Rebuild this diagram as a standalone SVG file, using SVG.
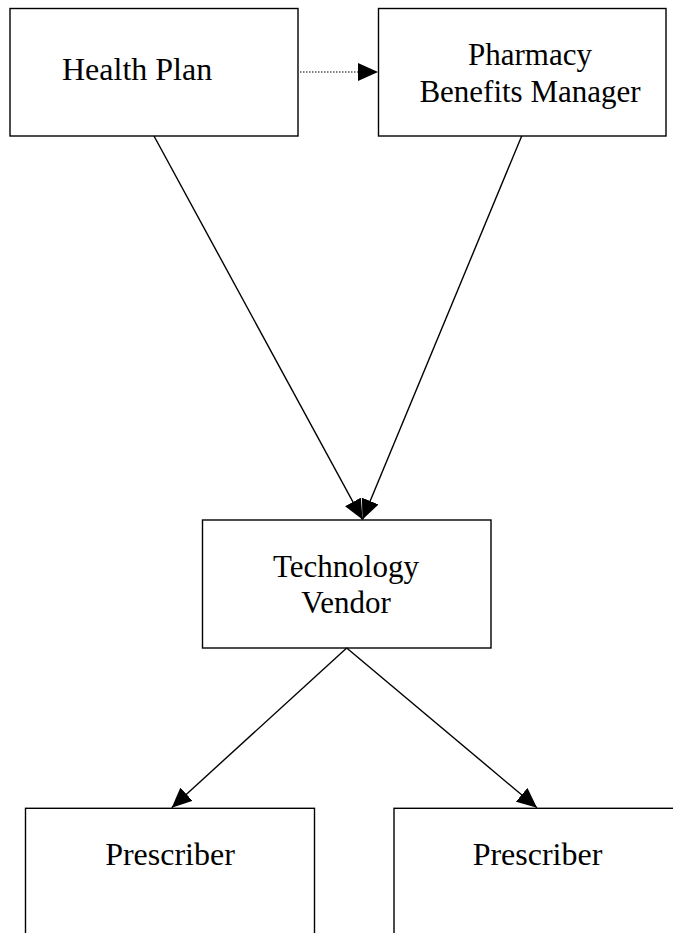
<svg xmlns="http://www.w3.org/2000/svg" width="673" height="933" viewBox="0 0 673 933">
<style>
.box{fill:#fff;stroke:#000;stroke-width:1.4}
.lbl{font-family:"Liberation Serif","Times New Roman",serif;font-size:32px;fill:#000}
.mid{text-anchor:middle}
.edge{stroke:#000;stroke-width:1.4;fill:none}
.dot{stroke-dasharray:1.5 1.5;stroke-width:1.2}
</style>
<defs>
<marker id="arr" markerUnits="userSpaceOnUse" viewBox="0 0 20 18" refX="20" refY="9" markerWidth="20" markerHeight="18" orient="auto">
<path d="M0,0 L20,9 L0,18 z" fill="#000"/>
</marker>
</defs>
<rect width="673" height="933" fill="#fff"/>
<g id="health-plan">
<rect class="box" x="10" y="8.5" width="288" height="127.5"/>
<text class="lbl" x="62" y="80">Health Plan</text>
</g>
<g id="pbm">
<rect class="box" x="378.5" y="8.5" width="287.5" height="127.5"/>
<text class="lbl mid" x="530" y="65" style="font-size:31px">Pharmacy</text>
<text class="lbl mid" x="530" y="101.5" style="font-size:31px">Benefits Manager</text>
</g>
<g id="tech-vendor">
<rect class="box" x="202.5" y="520" width="288.5" height="128"/>
<text class="lbl mid" x="346" y="576.5" style="font-size:31px">Technology</text>
<text class="lbl mid" x="346" y="613" style="font-size:31px">Vendor</text>
</g>
<g id="prescriber-1">
<rect class="box" x="25.5" y="808.3" width="289" height="200"/>
<text class="lbl mid" x="170" y="865">Prescriber</text>
</g>
<g id="prescriber-2">
<rect class="box" x="394" y="808.3" width="289" height="200"/>
<text class="lbl mid" x="537.5" y="865">Prescriber</text>
</g>
<g id="connectors">
<line class="edge dot" x1="300" y1="72" x2="378" y2="72" marker-end="url(#arr)"/>
<line class="edge" x1="154" y1="136" x2="362.5" y2="519.5" marker-end="url(#arr)"/>
<line class="edge" x1="521.7" y1="136" x2="362.5" y2="519.5" marker-end="url(#arr)"/>
<line class="edge" x1="346.7" y1="648" x2="171.7" y2="807.7" marker-end="url(#arr)"/>
<line class="edge" x1="346.7" y1="648" x2="537" y2="807.7" marker-end="url(#arr)"/>
</g>
</svg>
